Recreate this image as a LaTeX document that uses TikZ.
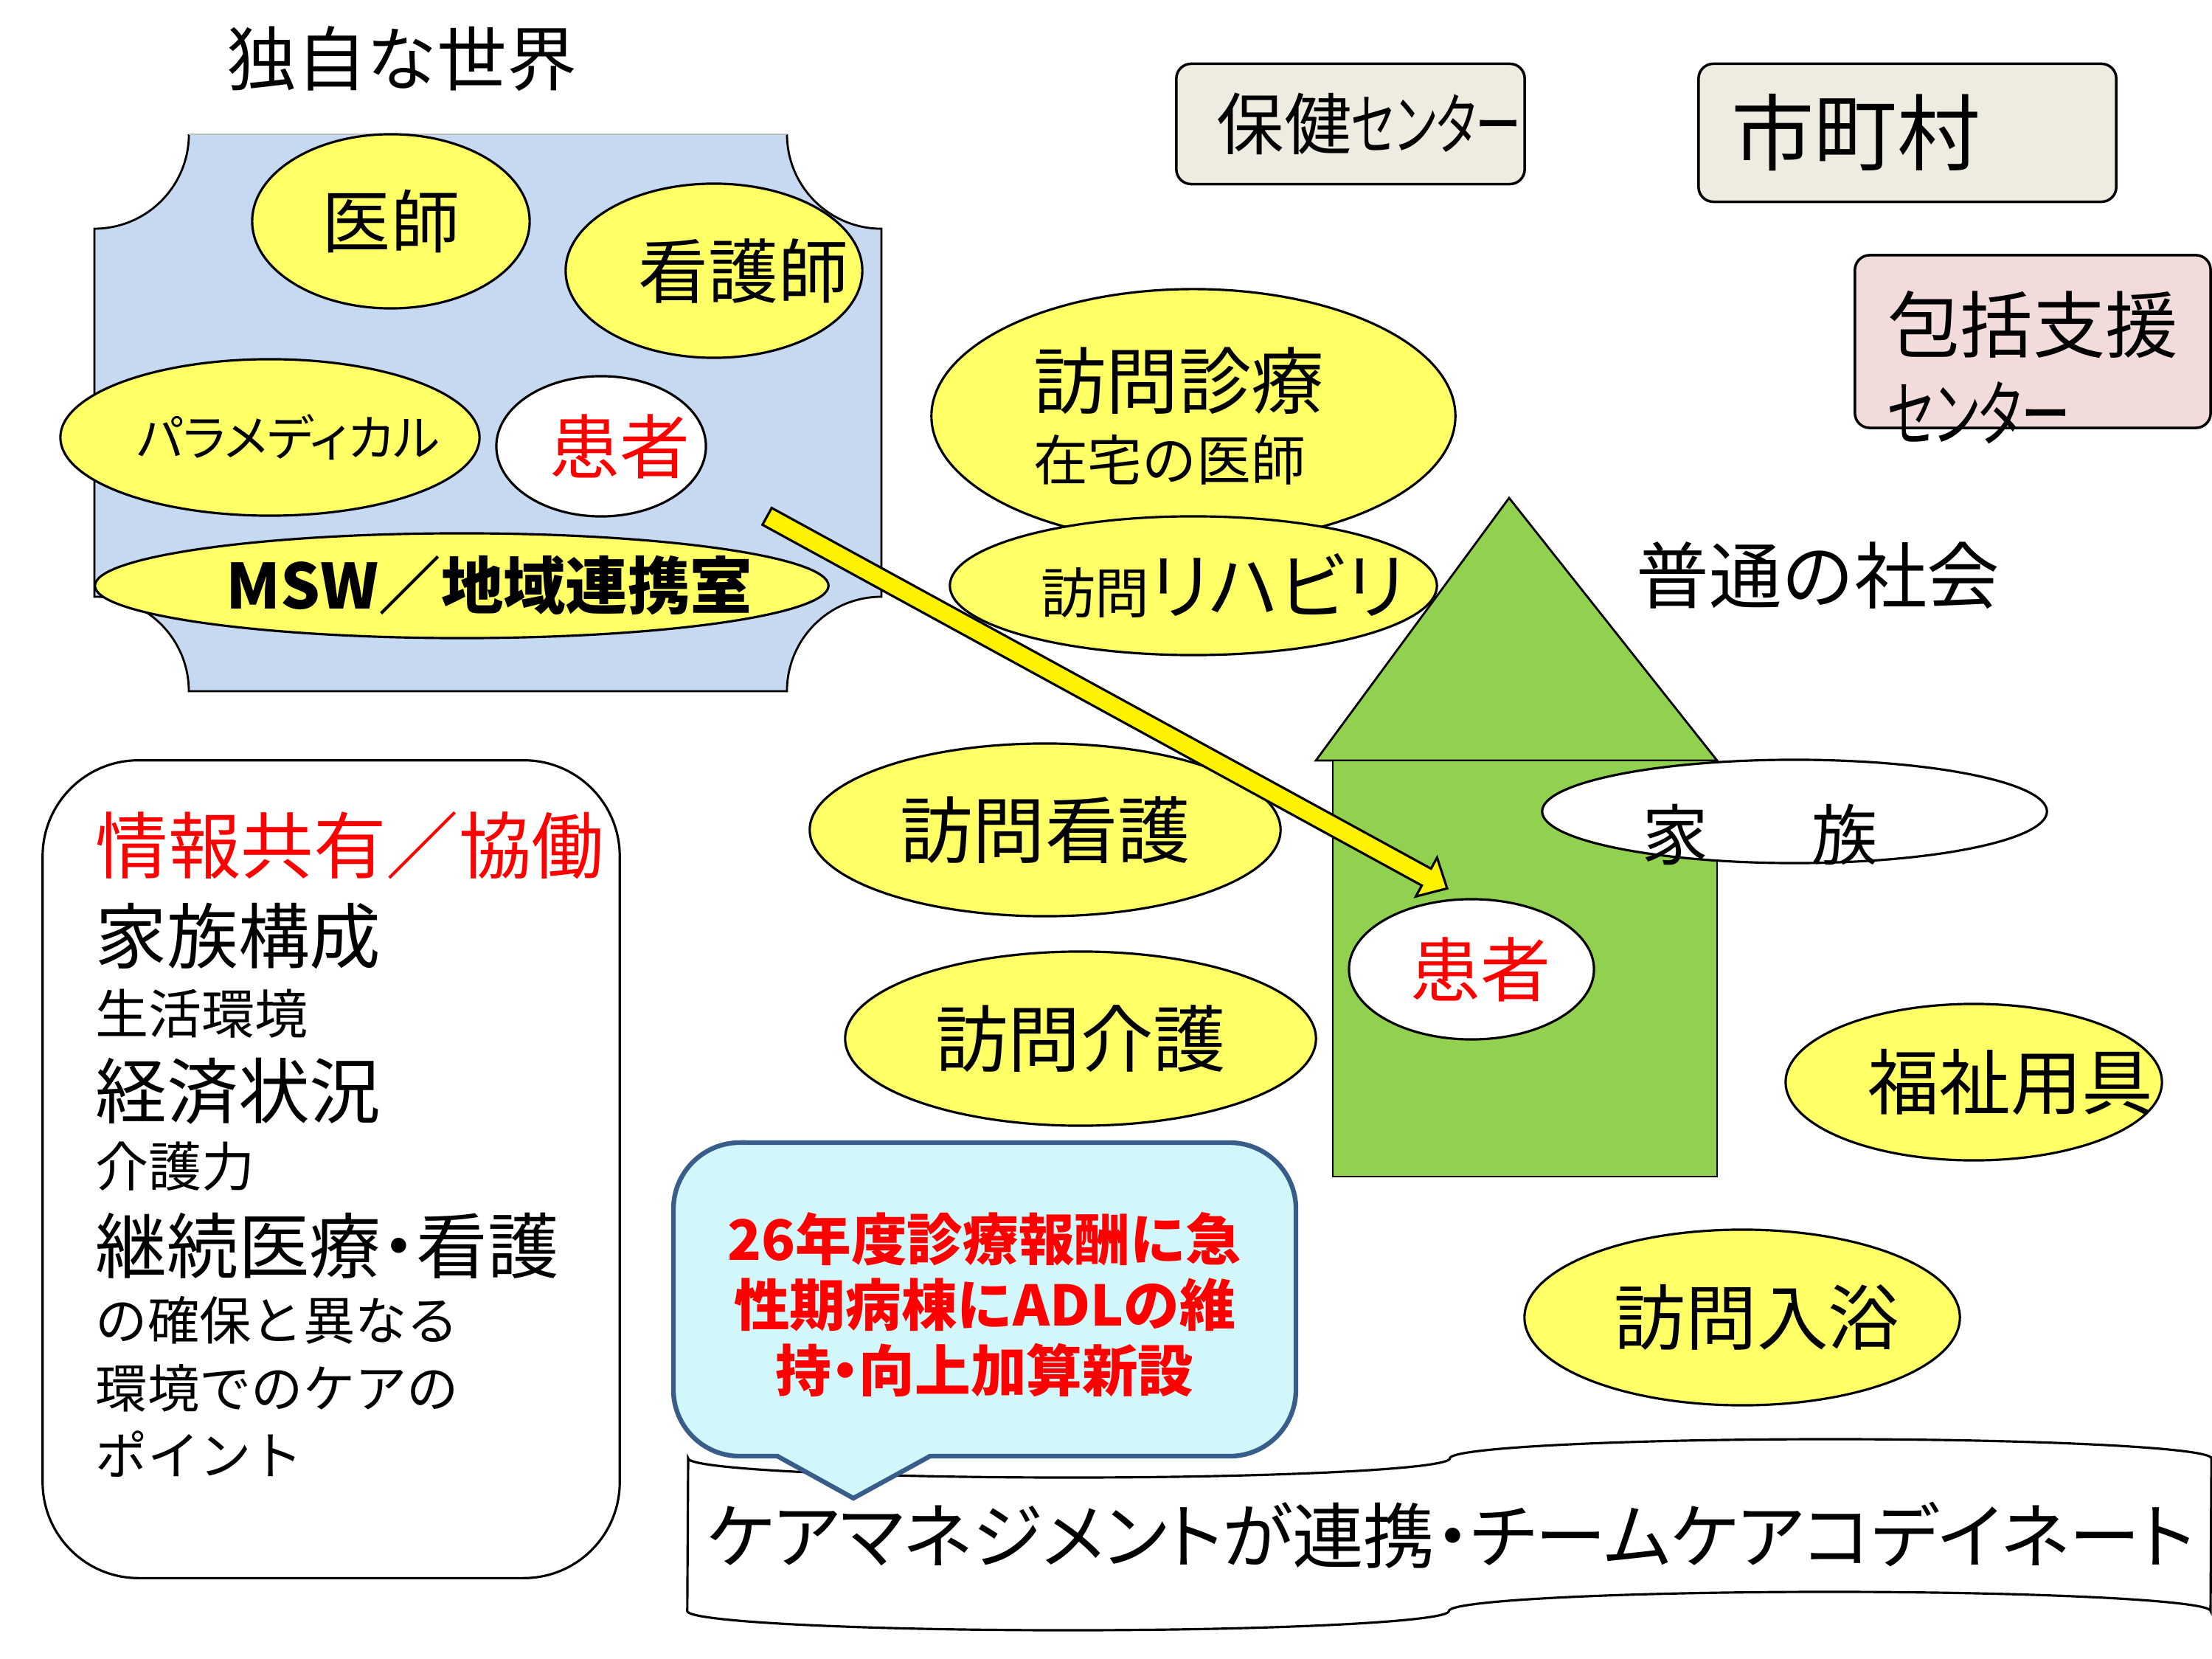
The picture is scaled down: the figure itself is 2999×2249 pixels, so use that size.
\documentclass[tikz,border=0pt]{standalone}
\usepackage{fontspec}
\usepackage{graphicx}
\setmainfont{Noto Sans CJK JP}
\newfontfamily\jpp{Noto Sans CJK JP}[RawFeature=+palt]
\usepackage{tikz}
\usetikzlibrary{calc,shapes.geometric}
\definecolor{yelfill}{HTML}{FFFF66}
\definecolor{worldblue}{HTML}{C6D9F1}
\definecolor{housegreen}{HTML}{92D050}
\definecolor{beige}{HTML}{EEECE1}
\definecolor{pinkish}{HTML}{F2DCDB}
\definecolor{callfill}{HTML}{D2F7FA}
\definecolor{calledge}{HTML}{385D8A}
\newcommand{\fz}[1]{\fontsize{#1pt}{#1pt}\selectfont}
\newcommand{\zb}[1]{\makebox[0pt]{#1}}
\newcommand{\narrowkana}[1]{\scalebox{0.68}[1]{#1}}
\newcommand{\nakaguro}{{\jpp ・}}

\begin{document}
\begin{tikzpicture}[x=0.01cm,y=-0.01cm,
  yel/.style={ellipse,draw,fill=yelfill,line width=0.9pt,inner sep=0pt},
  wht/.style={ellipse,draw,fill=white,line width=0.9pt,inner sep=0pt},
  tbox/.style={rectangle,rounded corners=0.2cm,draw,line width=1pt,inner sep=0pt},
  house/.style={draw,fill=housegreen,line width=0.8pt}]
\useasboundingbox (0,0) rectangle (2999,2249);

% hospital: own world
\fill[worldblue] (256,182) -- (1067,182) arc[start angle=180,end angle=270,radius=1.28cm]
  -- (1195,809) arc[start angle=90,end angle=180,radius=1.28cm]
  -- (256,937) arc[start angle=0,end angle=90,radius=1.28cm]
  -- (128,310) arc[start angle=270,end angle=360,radius=1.28cm] -- cycle;
\draw[line width=0.8pt] (1067,182) arc[start angle=180,end angle=270,radius=1.28cm]
  -- (1195,809) arc[start angle=90,end angle=180,radius=1.28cm]
  -- (256,937) arc[start angle=0,end angle=90,radius=1.28cm]
  -- (128,310) arc[start angle=270,end angle=360,radius=1.28cm];
\draw[gray!50,line width=0.5pt] (256,182) -- (1067,182);
\node[font=\fz{27}] (title) at (545,80) {独自な世界};
\node[yel,minimum width=3.76cm,minimum height=2.36cm,font=\fz{26.5}] (isi) at (530,300) {\zb{医師}};
\node[yel,minimum width=4.02cm,minimum height=2.36cm,font=\fz{27}] (kangosi) at (968,367) {\zb{\hspace*{0.8cm}看護師}};
\node[yel,minimum width=5.68cm,minimum height=2.12cm,font=\jpp\fz{19}] (para) at (366,593) {\zb{\hspace*{0.5cm}パラメディカル}};
\node[wht,minimum width=2.84cm,minimum height=1.90cm,font=\fz{27},text=red] (kanja) at (815,605) {\zb{\hspace*{0.5cm}患者}};
\node[yel,minimum width=9.94cm,minimum height=1.42cm,font=\bfseries\fz{24}] (msw) at (626,794) {\zb{\hspace*{0.75cm}MSW／地域連携室}};

% outside organisations
\node[tbox,fill=beige,minimum width=4.72cm,minimum height=1.63cm,font=\jpp\fz{26}] (hoken) at (1831,168) {\zb{\hspace*{0.5cm}保健\narrowkana{センター}}};
\node[tbox,fill=beige,minimum width=5.66cm,minimum height=1.87cm,font=\fz{32}] (shichoson) at (2586,180) {\zb{市町村\hspace*{1.4cm}}};
\node[tbox,fill=pinkish,minimum width=4.82cm,minimum height=2.34cm] (hokatsu) at (2756,463) {};
\node[font=\jpp\fontsize{28pt}{34pt}\selectfont,align=left] (hokatsut) at (2756,498) {包括支援\\\narrowkana{センター}};

% home services
\node[yel,minimum width=7.10cm,minimum height=3.44cm,font=\fz{28},align=left] (shinryo) at (1618,564) {訪問診療\hspace*{0.4cm}\\{\fz{21}在宅の医師}};
\node[yel,minimum width=6.60cm,minimum height=1.88cm,font=\jpp\fz{28}] (riha) at (1618,794) {\zb{\hspace*{0.8cm}{\fz{21}訪問}リハビリ}};
\node[yel,minimum width=6.38cm,minimum height=2.34cm,font=\fz{28}] (kango) at (1417,1125) {\zb{訪問看護}};
\node[yel,minimum width=6.38cm,minimum height=2.36cm,font=\fz{28}] (kaigo) at (1465,1408) {\zb{訪問介護}};

% home
\draw[house] (1784,1031) -- (2046,675) -- (2328,1031) -- cycle;
\draw[house] (1807,1031) rectangle (2328,1595);
\node[wht,minimum width=6.84cm,minimum height=1.40cm] (kazoku) at (2433,1100) {};
\node[font=\fz{25.5}] (kazokut) at (2386,1131) {家\hspace{1.4cm}族};
\node[wht,minimum width=3.32cm,minimum height=1.90cm,font=\fz{27},text=red] (kanja2) at (1995,1314) {\zb{\hspace*{0.25cm}患者}};
\node[font=\fz{28}] (futsu) at (2465,780) {普通の社会};
\node[yel,minimum width=5.10cm,minimum height=2.12cm,font=\fz{27.5}] (fukushi) at (2676,1467) {\zb{\hspace*{1.0cm}福祉用具}};
\node[yel,minimum width=5.90cm,minimum height=2.38cm,font=\fz{27.5}] (nyuyoku) at (2362,1786) {\zb{\hspace*{0.4cm}訪問入浴}};

% shared information
\node[draw,line width=0.9pt,rounded corners=1.3cm,minimum width=7.82cm,minimum height=11.08cm] (info) at (449,1585) {};
\foreach \yy/\fs/\cl/\tx [count=\i] in {1146/28/red/情報共有／協働,1269/27.5/black/家族構成,
  1374/20.5/black/生活環境,1479/27.5/black/経済状況,1581/20.5/black/介護力,
  1689/27.5/black/継続医療\nakaguro 看護,1790/20/black/の確保と異なる,1882/20/black/環境でのケアの,
  1971/20/black/ポイント}
  \node[anchor=west,inner sep=0pt,font=\fz{\fs},text=\cl] (info\i) at (129,\yy) {\tx};

% care management banner
\draw[line width=0.9pt,fill=white] (933,1977)
  arc[start angle=180,end angle=360,x radius=5.16cm,y radius=0.26cm]
  arc[start angle=180,end angle=0,x radius=5.16cm,y radius=0.26cm] -- (2997,2184)
  arc[start angle=0,end angle=180,x radius=5.16cm,y radius=0.26cm]
  arc[start angle=360,end angle=180,x radius=5.16cm,y radius=0.26cm] -- cycle;
\node[font=\jpp\fz{27.5}] (caremgmt) at (1967,2081) {ケアマネジメントが連携・チームケアコデイネート};

% callout
\draw[line width=1.8pt,draw=calledge,fill=callfill] (1003,1549) -- (1667,1549)
  arc[start angle=90,end angle=0,radius=0.9cm] -- (1757,1884)
  arc[start angle=0,end angle=-90,radius=0.9cm] -- (1261,1974) -- (1157,2031) -- (1054,1974) -- (1003,1974)
  arc[start angle=270,end angle=180,radius=0.9cm] -- (913,1639)
  arc[start angle=180,end angle=90,radius=0.9cm] -- cycle;
\node[font=\bfseries\fontsize{21.5pt}{25.3pt}\selectfont,text=red,align=center] (kasan) at (1335,1769) {26年度診療報酬に急\\性期病棟にADLの維\\持\nakaguro 向上加算新設};

% transfer arrow
\coordinate (armS) at (1040,700);
\coordinate (armE) at ([shift={(-33,-13)}]kanja2.north);
\coordinate (armB) at ($(armE)!0.32cm!(armS)$);
\filldraw[fill=yellow,line width=0.9pt] ($(armS)!0.13cm!90:(armE)$) -- ($(armB)!0.13cm!-90:(armS)$)
  -- ($(armB)!0.30cm!-90:(armS)$) -- (armE) -- ($(armB)!0.30cm!90:(armS)$)
  -- ($(armB)!0.13cm!90:(armS)$) -- ($(armS)!0.13cm!-90:(armE)$) -- cycle;
\end{tikzpicture}
\end{document}
